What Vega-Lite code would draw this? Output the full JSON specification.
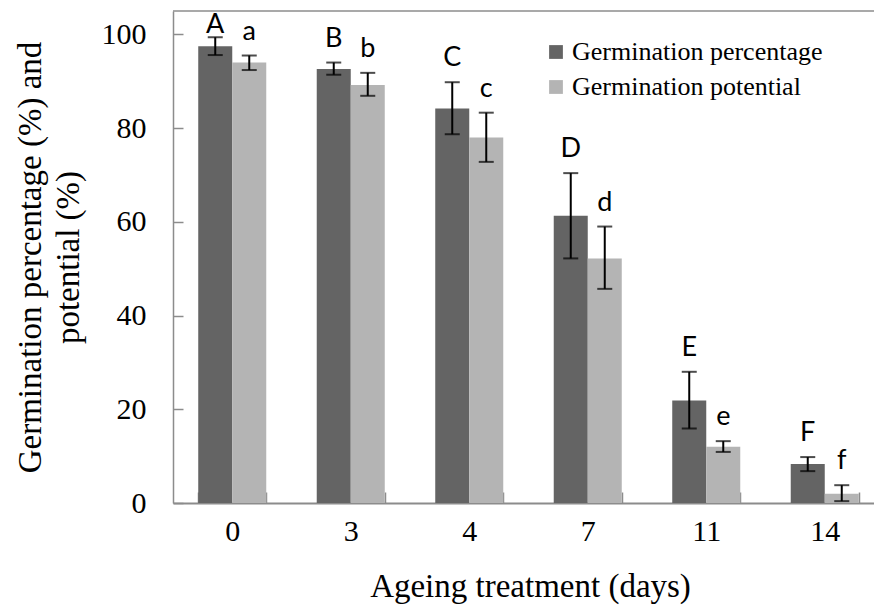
{
  "$schema": "https://vega.github.io/schema/vega-lite/v6.json",
  "width": 701,
  "height": 492,
  "autosize": {"type": "none"},
  "padding": {"left": 173, "top": 11, "right": 0, "bottom": 102},
  "background": "white",
  "config": {"view": {"stroke": null}, "font": "Liberation Serif"},
  "data": {
    "values": [
      {"day": "0", "series": "Germination percentage", "value": 97.5, "lo": 95.6, "hi": 99.4, "letter": "A"},
      {"day": "0", "series": "Germination potential", "value": 94.0, "lo": 92.4, "hi": 95.5, "letter": "a"},
      {"day": "3", "series": "Germination percentage", "value": 92.6, "lo": 91.4, "hi": 94.0, "letter": "B"},
      {"day": "3", "series": "Germination potential", "value": 89.2, "lo": 86.9, "hi": 91.8, "letter": "b"},
      {"day": "4", "series": "Germination percentage", "value": 84.2, "lo": 78.7, "hi": 89.8, "letter": "C"},
      {"day": "4", "series": "Germination potential", "value": 78.0, "lo": 72.8, "hi": 83.3, "letter": "c"},
      {"day": "7", "series": "Germination percentage", "value": 61.3, "lo": 52.2, "hi": 70.4, "letter": "D"},
      {"day": "7", "series": "Germination potential", "value": 52.2, "lo": 45.7, "hi": 59.0, "letter": "d"},
      {"day": "11", "series": "Germination percentage", "value": 21.9, "lo": 15.9, "hi": 28.0, "letter": "E"},
      {"day": "11", "series": "Germination potential", "value": 12.0, "lo": 10.9, "hi": 13.2, "letter": "e"},
      {"day": "14", "series": "Germination percentage", "value": 8.3, "lo": 6.8, "hi": 9.8, "letter": "F"},
      {"day": "14", "series": "Germination potential", "value": 2.0, "lo": 0.4, "hi": 3.8, "letter": "f"}
    ]
  },
  "layer": [
    {
      "mark": {"type": "bar"},
      "encoding": {
        "x": {
          "field": "day", "type": "nominal", "sort": null,
          "scale": {"range": [0, 711], "paddingInner": 0.426, "paddingOuter": 0.213},
          "axis": {
            "labelAngle": 0, "labelFontSize": 30, "labelColor": "black", "labelFont": "Liberation Serif",
            "labelBaseline": "alphabetic", "labelPadding": 48,
            "tickBand": "extent", "tickSize": -11, "tickColor": "#8c8c8c", "tickWidth": 1.5,
            "domainColor": "#8c8c8c", "domainWidth": 2,
            "title": "Ageing treatment (days)", "titleFontSize": 33, "titleFontWeight": "normal",
            "titleColor": "black", "titleFont": "Liberation Serif",
            "titleBaseline": "alphabetic", "titleX": 357, "titleY": 93, "titleAnchor": "middle"
          }
        },
        "xOffset": {"field": "series", "type": "nominal", "sort": ["Germination percentage", "Germination potential"], "scale": {"paddingInner": 0, "paddingOuter": 0}},
        "y": {
          "field": "value", "type": "quantitative",
          "scale": {"domain": [0, 105], "nice": false, "zero": true},
          "axis": {
            "values": [0, 20, 40, 60, 80, 100], "grid": false,
            "labelFontSize": 30, "labelColor": "black", "labelFont": "Liberation Serif", "labelPadding": 37,
            "tickSize": -10, "tickColor": "#8c8c8c", "tickWidth": 1.5,
            "domainColor": "#8c8c8c", "domainWidth": 1.5,
            "title": ["Germination percentage (%) and", "potential (%)"],
            "titleFontSize": 33, "titleFontWeight": "normal", "titleColor": "black", "titleFont": "Liberation Serif",
            "titleLineHeight": 38, "titleAngle": -90, "titleBaseline": "alphabetic", "titleAlign": "center",
            "titleX": -133, "titleY": 246
          }
        },
        "color": {
          "field": "series", "type": "nominal",
          "scale": {"domain": ["Germination percentage", "Germination potential"], "range": ["#646464", "#b4b4b4"]},
          "legend": {
            "title": null, "orient": "none", "legendX": 370, "legendY": 28,
            "symbolType": "square", "symbolSize": 190, "symbolStrokeWidth": 0,
            "labelFontSize": 26, "labelFont": "Liberation Serif", "labelColor": "black", "labelLimit": 0,
            "rowPadding": 9, "labelOffset": 3
          }
        }
      }
    },
    {
      "mark": {"type": "rule", "color": "black", "strokeWidth": 2},
      "encoding": {
        "x": {"field": "day", "type": "nominal", "sort": null},
        "xOffset": {"field": "series", "type": "nominal", "sort": ["Germination percentage", "Germination potential"]},
        "y": {"field": "lo", "type": "quantitative"},
        "y2": {"field": "hi"}
      }
    },
    {
      "mark": {"type": "tick", "orient": "horizontal", "size": 15, "thickness": 2, "color": "black"},
      "encoding": {
        "x": {"field": "day", "type": "nominal", "sort": null},
        "xOffset": {"field": "series", "type": "nominal", "sort": ["Germination percentage", "Germination potential"]},
        "y": {"field": "lo", "type": "quantitative"}
      }
    },
    {
      "mark": {"type": "tick", "orient": "horizontal", "size": 15, "thickness": 2, "color": "black"},
      "encoding": {
        "x": {"field": "day", "type": "nominal", "sort": null},
        "xOffset": {"field": "series", "type": "nominal", "sort": ["Germination percentage", "Germination potential"]},
        "y": {"field": "hi", "type": "quantitative"}
      }
    },
    {
      "transform": [{"filter": "datum.hi <= 98"}],
      "mark": {"type": "text", "dy": -16, "baseline": "alphabetic", "font": "Lato", "fontSize": 27, "color": "black"},
      "encoding": {
        "x": {"field": "day", "type": "nominal", "sort": null},
        "xOffset": {"field": "series", "type": "nominal", "sort": ["Germination percentage", "Germination potential"]},
        "y": {"field": "hi", "type": "quantitative"},
        "text": {"field": "letter"}
      }
    },
    {
      "transform": [{"filter": "datum.hi > 98"}],
      "mark": {"type": "text", "dy": -4, "baseline": "alphabetic", "font": "Lato", "fontSize": 27, "color": "black"},
      "encoding": {
        "x": {"field": "day", "type": "nominal", "sort": null},
        "xOffset": {"field": "series", "type": "nominal", "sort": ["Germination percentage", "Germination potential"]},
        "y": {"field": "hi", "type": "quantitative"},
        "text": {"field": "letter"}
      }
    },
    {
      "data": {"values": [{}]},
      "mark": {"type": "rule", "color": "#8c8c8c", "strokeWidth": 1.5},
      "encoding": {"y": {"datum": 105, "type": "quantitative"}}
    }
  ]
}
